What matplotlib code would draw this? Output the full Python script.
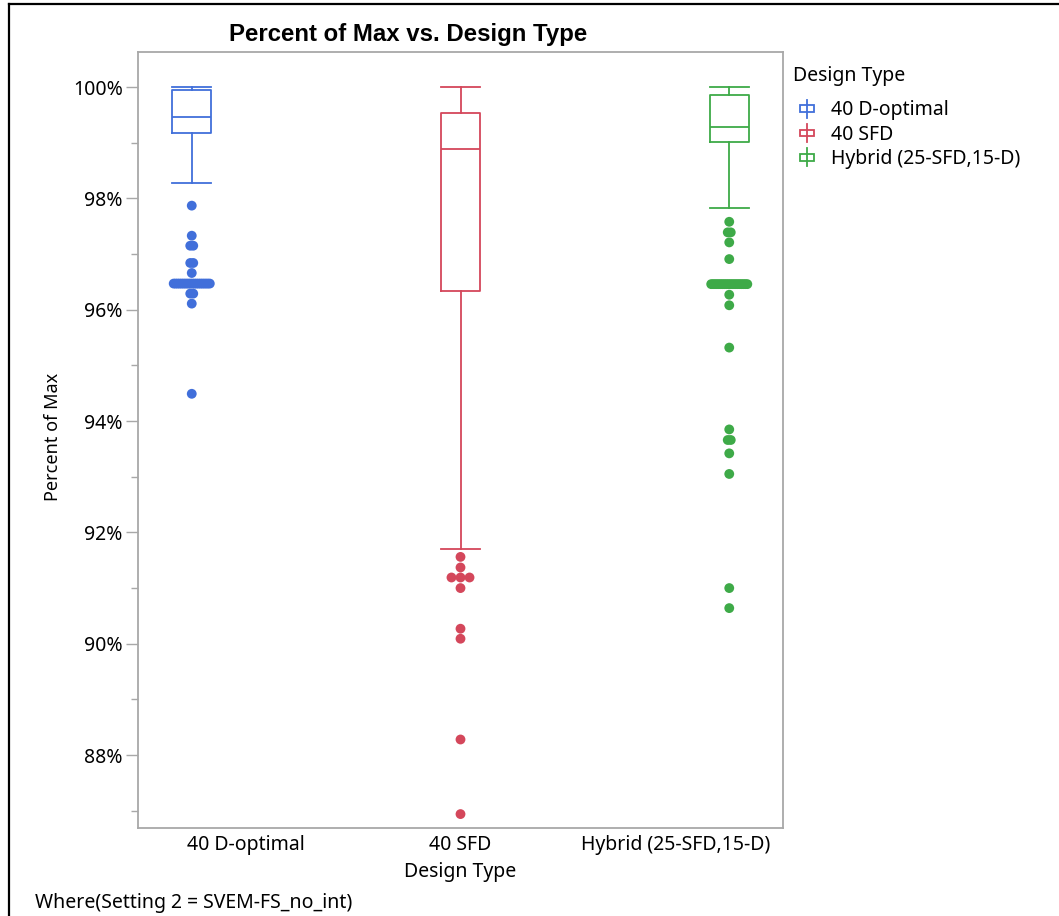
import numpy as np
import matplotlib
matplotlib.use('Agg')
from matplotlib import pyplot as plt
from matplotlib.lines import Line2D
from matplotlib.patches import Rectangle
from matplotlib.legend_handler import HandlerBase
from matplotlib.ticker import MultipleLocator, FuncFormatter

plt.rcParams['font.family'] = ['Noto Sans', 'DejaVu Sans']

designs = ['40 D-optimal', '40 SFD', 'Hybrid (25-SFD,15-D)']
colors = ['#416FDA', '#D4475B', '#3EAA48']

# box summaries (percent of max)
whis_lo = [98.27, 91.71, 97.82]
q1 = [99.17, 96.33, 99.01]
medians = [99.47, 98.88, 99.28]
q3 = [99.95, 99.53, 99.86]
whis_hi = [100.0, 100.0, 100.0]

# outlying runs: value and how many runs share it
dopt_out = [97.87, 97.33, 97.15, 96.84, 96.66, 96.47, 96.29, 96.11, 94.49]
dopt_cnt = [1, 1, 2, 2, 1, 20, 2, 1, 1]
sfd_out = [91.56, 91.37, 91.19, 91.00, 90.27, 90.09, 88.28, 86.94]
sfd_cnt = [1, 1, 3, 1, 1, 1, 1, 1]
hyb_out = [97.58, 97.39, 97.21, 96.91, 96.46, 96.27, 96.08, 95.32,
           93.85, 93.66, 93.42, 93.05, 91.00, 90.64]
hyb_cnt = [1, 2, 1, 1, 20, 1, 1, 1, 1, 2, 1, 1, 1, 1]

outliers = [(dopt_out, dopt_cnt), (sfd_out, sfd_cnt), (hyb_out, hyb_cnt)]

W, H = 1059, 916
fig = plt.figure(figsize=(W / 100, H / 100), dpi=100)
ax = fig.add_axes([138 / W, 1 - 828 / H, (783 - 138) / W, (828 - 52) / H])

# each design sits in its own category, dodged by group
positions = [i + (i - 1) * 0.25 for i in range(len(designs))]
box_w = 0.18

for i, c in enumerate(colors):
    stats = [dict(med=medians[i], q1=q1[i], q3=q3[i],
                  whislo=whis_lo[i], whishi=whis_hi[i], fliers=[])]
    lp = dict(color=c, linewidth=1.3)
    ax.bxp(stats, positions=[positions[i]], widths=box_w, showfliers=False,
           boxprops=lp, whiskerprops=lp, capprops=lp, medianprops=lp,
           capwidths=box_w, manage_ticks=False)

    vals, cnts = outliers[i]
    for v, n in zip(vals, cnts):
        if n == 1:
            offs = np.zeros(1)
        elif n == 2:
            offs = np.array([-0.007, 0.007])
        elif n == 3:
            offs = np.linspace(-0.042, 0.042, 3)
        else:
            offs = np.linspace(-0.084, 0.084, n)
        ax.scatter(positions[i] + offs, np.full(n, v), s=50, color=c,
                   edgecolors='none', zorder=3)

ax.set_xlim(-0.5, 2.5)
ax.set_ylim(86.69, 100.63)
ax.set_xticks(range(len(designs)))
ax.set_xticklabels(designs, fontsize=14)
ax.tick_params(axis='x', length=0, pad=5)
ax.yaxis.set_major_locator(MultipleLocator(2))
ax.yaxis.set_minor_locator(MultipleLocator(1))
ax.yaxis.set_major_formatter(FuncFormatter(lambda v, p: '%d%%' % round(v)))
ax.tick_params(axis='y', which='major', length=9, width=1, color='#A8A8A8',
               labelsize=14, pad=2)
ax.tick_params(axis='y', which='minor', length=5, width=1, color='#A8A8A8')
for s in ax.spines.values():
    s.set_color('#A8A8A8')
    s.set_linewidth(1.3)

fig.text(408 / W, 1 - 34 / H, 'Percent of Max vs. Design Type',
         ha='center', va='center', fontsize=17.3, fontweight='bold',
         family=['Liberation Sans', 'DejaVu Sans'])
fig.text(460 / W, 1 - 872 / H, 'Design Type', ha='center', va='center', fontsize=14)
fig.text(53 / W, 1 - 437 / H, 'Percent of Max', ha='center', va='center',
         rotation=90, fontsize=13)
fig.text(35 / W, 1 - 903 / H, 'Where(Setting 2 = SVEM-FS_no_int)',
         ha='left', va='center', fontsize=14)


class BoxGlyph(HandlerBase):
    def create_artists(self, legend, orig_handle, xdescent, ydescent,
                       width, height, fontsize, trans):
        c = orig_handle.get_color()
        cx = -xdescent + width / 2
        cy = -ydescent + height / 2
        bw, bh = width * 0.7, height * 0.5
        rect = Rectangle((cx - bw / 2, cy - bh / 2), bw, bh, fill=False,
                         edgecolor=c, linewidth=1.3, transform=trans)
        stem = Line2D([cx, cx], [cy - height * 0.65, cy + height * 0.65],
                      color=c, linewidth=1.3, transform=trans)
        return [rect, stem]


# legend: title drawn as text, entries via the legend box
fig.text(793 / W, 1 - 76 / H, 'Design Type', ha='left', va='center', fontsize=14)
handles = [Line2D([], [], color=c) for c in colors]
leg = fig.legend(handles, designs, loc='upper left',
                 bbox_to_anchor=(780 / W, 1 - 83 / H), frameon=False,
                 fontsize=14, handlelength=1.0,
                 handletextpad=0.7, labelspacing=0.22,
                 handler_map={Line2D: BoxGlyph()})

# outer frame lines on the top and left edges
fig.add_artist(Line2D([9 / W, 9 / W], [0, 1 - 4 / H], color='black', linewidth=1.6))
fig.add_artist(Line2D([9 / W, 1], [1 - 4 / H, 1 - 4 / H], color='black', linewidth=1.6))

fig.savefig('out.png', dpi=100)
